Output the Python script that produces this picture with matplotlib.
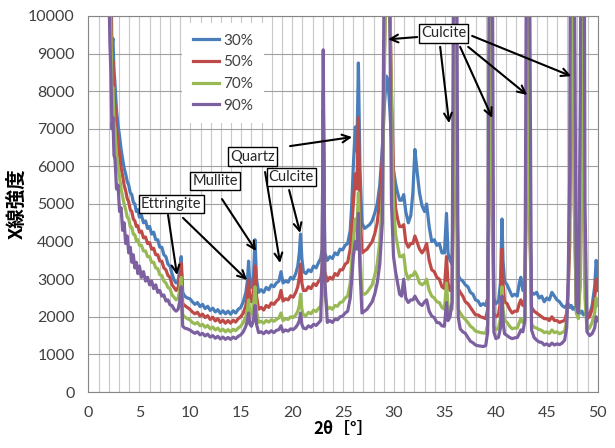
"""
XRD patterns (2theta vs intensity) for four mixes, with phase labels.
"""

import matplotlib.pyplot as plt
from matplotlib.ticker import MultipleLocator

# -----------------------------
# Data
# -----------------------------
two_theta = [
    2.0, 2.1, 2.2, 2.3, 2.4, 2.5, 2.6, 2.75, 2.9, 3.05,
    3.2, 3.35, 3.5, 3.65, 3.8, 3.95, 4.1, 4.25, 4.4, 4.55,
    4.7, 4.85, 5.0, 5.2, 5.4, 5.6, 5.8, 6.0, 6.2, 6.4,
    6.6, 6.8, 7.0, 7.2, 7.4, 7.6, 7.8, 8.0, 8.2, 8.4,
    8.6, 8.8, 8.95, 9.1, 9.25, 9.45, 9.7,
    9.95, 10.2, 10.45, 10.7, 10.95, 11.2, 11.45, 11.7, 11.95, 12.2,
    12.45, 12.7, 12.95, 13.2, 13.45, 13.7, 13.95, 14.2, 14.45, 14.7,
    14.95, 15.2, 15.45, 15.6, 15.72, 15.85, 16.0, 16.2, 16.35, 16.5,
    16.7, 16.95, 17.2, 17.45, 17.7, 17.95, 18.2, 18.45, 18.7, 18.9,
    19.1, 19.35, 19.6, 19.85, 20.1, 20.35, 20.55, 20.7, 20.82, 20.95,
    21.1,
    21.35, 21.6, 21.85, 22.1, 22.35, 22.6, 22.8, 22.95, 23.05, 23.2,
    23.45, 23.7, 23.95, 24.2, 24.45, 24.7, 24.95, 25.2, 25.45, 25.7,
    25.85, 26.0, 26.2, 26.35, 26.5, 26.65, 26.85, 27.1, 27.35, 27.6,
    27.85, 28.1, 28.35, 28.6, 28.85, 29.05, 29.25, 29.4, 29.55, 29.75,
    29.95, 30.15, 30.35, 30.55,
    30.75, 30.95, 31.15, 31.4, 31.65, 31.85, 32.05, 32.25, 32.5, 32.75,
    33.0, 33.2, 33.45, 33.7, 33.95, 34.2, 34.45, 34.7, 34.95, 35.15,
    35.3, 35.5, 35.7, 35.85, 36.0, 36.15, 36.3, 36.5, 36.75, 37.0,
    37.25, 37.5, 37.75, 38.0, 38.25, 38.5, 38.75, 39.0, 39.2, 39.35,
    39.5, 39.65, 39.8, 40.0,
    40.25, 40.45, 40.6, 40.7, 40.85, 41.1, 41.35, 41.6, 41.85, 42.1,
    42.3, 42.45, 42.65, 42.85, 43.0, 43.15, 43.3, 43.5, 43.75, 44.0,
    44.25, 44.5, 44.75, 45.0, 45.25, 45.5, 45.75, 46.0, 46.25, 46.5,
    46.75, 46.95, 47.1, 47.25, 47.4, 47.55, 47.7, 47.9, 48.1, 48.3,
    48.45, 48.6, 48.75, 48.95, 49.2, 49.45, 49.7, 49.85, 50.0,
]

int_30 = [
    14000, 12500, 11000, 9200, 9400, 8600, 8200, 7500, 7100, 6800,
    6450, 6200, 5950, 5800, 5600, 5500, 5300, 5250, 5050, 5000,
    4800, 4850, 4650, 4700, 4500, 4550, 4350, 4400, 4200, 4250,
    4050, 4050, 3850, 3850, 3650, 3600, 3400, 3350, 3150, 2980,
    2900, 2950, 3250, 3600, 2650, 2550, 2500,
    2480, 2400, 2330, 2380, 2270, 2330, 2220, 2280, 2170, 2230,
    2130, 2190, 2090, 2160, 2080, 2150, 2070, 2160, 2100, 2200,
    2250, 2400, 2650, 2950, 3480, 2850, 2780, 3100, 4050, 3000,
    2650, 2720, 2650, 2780, 2720, 2850, 2800, 2900, 2950, 3200,
    2900, 2950, 2920, 3050, 3000, 3150, 3350, 3700, 4200, 3550,
    3200,
    3150, 3250, 3200, 3350, 3300, 3450, 3550, 3800, 8000, 3700,
    3500, 3600, 3550, 3700, 3650, 3800, 3780, 3900, 3950, 4300,
    5000, 6000, 7050, 6400, 8750, 6000, 4500, 4350, 4400, 4450,
    4550, 4750, 5000, 5500, 6500, 7600, 8400, 8300, 7700, 6700,
    5900, 5550, 5300, 5100,
    5100, 5250, 4800, 4500, 4700, 5300, 6450, 5900, 5300, 4950,
    4800, 5000, 4400, 4000, 4050, 3900, 3950, 3700, 3700, 4750,
    3700, 3500, 3400, 6000, 11000, 6000, 3100, 3000, 2950, 2850,
    2800, 2650, 2600, 2450, 2420, 2300, 2350, 2300, 2500, 6000,
    11000, 6000, 2500, 2350,
    2400, 2900, 4600, 3500, 2950, 2850, 2700, 2550, 2600, 2550,
    2900, 3050, 2700, 2750, 6000, 11000, 5000, 2650, 2600, 2650,
    2500, 2550, 2400, 2500, 2450, 2650, 2550, 2450, 2400, 2300,
    2250, 2300, 2350, 2250, 2300, 2200, 2250, 2150, 2200, 2100,
    2150, 2050, 2100, 2100, 2050, 2300, 2800, 3500, 3000,
]

int_50 = [
    13000, 11500, 10200, 8600, 8800, 7900, 7600, 7000, 6600, 6300,
    5950, 5750, 5500, 5350, 5150, 5050, 4850, 4800, 4600, 4550,
    4400, 4420, 4250, 4280, 4100, 4120, 3950, 3970, 3800, 3820,
    3650, 3650, 3480, 3480, 3300, 3250, 3100, 3050, 2850, 2780,
    2700, 2780, 3000, 3420, 2350, 2300, 2250,
    2200, 2130, 2080, 2120, 2020, 2070, 1980, 2030, 1930, 1990,
    1890, 1950, 1850, 1910, 1830, 1900, 1830, 1910, 1860, 1950,
    2000, 2100, 2300, 2550, 2980, 2450, 2400, 2650, 3350, 2550,
    2200, 2250, 2180, 2300, 2250, 2370, 2330, 2420, 2480, 2700,
    2420, 2480, 2450, 2560, 2520, 2650, 2800, 3050, 3400, 2900,
    2700,
    2700, 2800, 2750, 2880, 2830, 2950, 3000, 3300, 7500, 3200,
    2950, 3050, 3000, 3150, 3100, 3250, 3250, 3400, 3450, 3800,
    4400, 5000, 5800, 5400, 7300, 5000, 3700, 3750, 3800, 3900,
    4000, 4200, 4500, 5100, 6200, 9000, 11500, 12500, 11000, 8000,
    5800, 4900, 4600, 4400,
    4400, 4450, 4000, 3850, 3950, 3950, 4150, 4000, 3800, 3700,
    3800, 3950, 3500, 3250, 3200, 3050, 3000, 2800, 2750, 3600,
    2900, 2700, 2700, 6000, 11000, 6000, 2750, 2650, 2550, 2400,
    2350, 2250, 2150, 2050, 2050, 2000, 1980, 1950, 2200, 6000,
    11000, 6000, 2100, 2000,
    2050, 2400, 3800, 2900, 2400, 2350, 2200, 2100, 2150, 2150,
    2350, 2450, 2300, 2450, 6000, 11000, 5000, 2250, 2150, 2100,
    2050, 2000, 1950, 1950, 1900, 2000, 1900, 1900, 1850, 1880,
    1900, 2100, 2700, 3900, 9000, 11000, 5000, 2300, 2200, 3000,
    7200, 7000, 3000, 1950, 2000, 2200, 2500, 3000, 2700,
]

int_70 = [
    12500, 10800, 9500, 8000, 8100, 7200, 7000, 6300, 6000, 5700,
    5400, 5200, 5000, 4850, 4650, 4600, 4400, 4380, 4200, 4180,
    4020, 4050, 3900, 3900, 3750, 3750, 3600, 3600, 3450, 3450,
    3300, 3280, 3120, 3100, 2950, 2900, 2780, 2750, 2580, 2520,
    2450, 2500, 2700, 3050, 2050, 2000, 1950,
    1920, 1850, 1810, 1850, 1760, 1800, 1720, 1770, 1680, 1730,
    1650, 1700, 1620, 1670, 1600, 1660, 1600, 1670, 1630, 1700,
    1750, 1850, 2000, 2200, 2450, 2100, 2050, 2250, 2800, 2150,
    1850, 1880, 1830, 1900, 1860, 1920, 1880, 1930, 1970, 2100,
    1900, 1950, 1930, 2000, 1980, 2050, 2150, 2300, 2600, 2200,
    2050,
    2030, 2120, 2080, 2180, 2140, 2230, 2280, 2700, 7000, 2600,
    2200, 2250, 2200, 2300, 2280, 2380, 2400, 2500, 2550, 2900,
    3500, 4000, 4600, 4300, 5300, 3800, 2600, 2600, 2650, 2750,
    2850, 3100, 3400, 4000, 5200, 8500, 11500, 12500, 11000, 7500,
    5000, 4200, 3900, 3600,
    3600, 3650, 3200, 3000, 3100, 3100, 3200, 3100, 2900, 2850,
    2900, 3000, 2700, 2550, 2500, 2400, 2380, 2250, 2200, 2900,
    2300, 2150, 2200, 6000, 11000, 6000, 2200, 2100, 2000, 1930,
    1850, 1750, 1700, 1620, 1600, 1580, 1570, 1560, 1800, 6000,
    11000, 6000, 1750, 1650,
    1700, 1950, 2800, 2200, 1900, 1850, 1750, 1680, 1700, 1700,
    1850, 1950, 1850, 1950, 6000, 11000, 5000, 1800, 1720, 1700,
    1660, 1640, 1580, 1600, 1560, 1650, 1580, 1600, 1550, 1580,
    1620, 1900, 2600, 5300, 11000, 11000, 5000, 2100, 1950, 3000,
    11000, 6000, 2500, 1650, 1700, 1850, 2100, 2500, 2300,
]

int_90 = [
    10800, 9300, 8500, 7000, 7300, 6300, 6200, 5400, 5500, 4800,
    4900, 4300, 4500, 3950, 4150, 3700, 3850, 3450, 3650, 3300,
    3450, 3150, 3350, 3050, 3200, 2950, 3050, 2850, 2950, 2750,
    2850, 2650, 2700, 2550, 2580, 2420, 2450, 2320, 2300, 2200,
    2150, 2200, 2400, 2800, 1750, 1700, 1680,
    1650, 1600, 1560, 1600, 1520, 1560, 1490, 1540, 1460, 1500,
    1430, 1480, 1410, 1460, 1400, 1450, 1400, 1460, 1420, 1480,
    1520, 1600, 1750, 1900, 2100, 1800, 1750, 1900, 2300, 1800,
    1580, 1600, 1550, 1620, 1570, 1630, 1580, 1640, 1660, 1760,
    1600, 1650, 1620, 1680, 1660, 1720, 1800, 1900, 2100, 1800,
    1700,
    1680, 1760, 1720, 1800, 1770, 1840, 1900, 3500, 9100, 3000,
    1850, 1900, 1850, 1940, 1920, 2000, 2020, 2100, 2150, 2500,
    3000, 3600, 4000, 3800, 4750, 3300, 2100, 2150, 2200, 2300,
    2400, 2600, 2900, 3400, 4500, 12000, 16000, 17000, 11000, 5000,
    3600, 3200, 2900, 2600,
    2550, 3000, 2500, 2380, 2450, 2450, 2550, 2450, 2350, 2300,
    2400, 2450, 2150, 2020, 1980, 1850, 1840, 1760, 1750, 2380,
    1900, 2000, 2400, 12000, 20000, 12000, 2000, 1680, 1600, 1560,
    1450, 1350, 1310, 1250, 1230, 1220, 1210, 1230, 1600, 12000,
    20000, 12000, 1600, 1420,
    1450, 1700, 2550, 1900, 1550, 1500, 1450, 1420, 1440, 1450,
    1550, 1650, 1600, 1900, 12000, 20000, 12000, 1650, 1450, 1380,
    1330, 1320, 1250, 1280, 1230, 1300, 1250, 1280, 1260, 1300,
    1380, 1700, 3000, 5800, 20000, 20000, 12000, 2300, 2100, 8000,
    20000, 20000, 5000, 1600, 1500, 1550, 1700, 2000, 1900,
]

series = [int_30, int_50, int_70, int_90]
labels = ["30%", "50%", "70%", "90%"]
colors = ["#4a7ebb", "#be4b48", "#98b954", "#7d60a0"]

# phase labels: (text, box centre), arrows: (tail, head) in data coords
boxes = [
    ("Ettringite", (8.12, 4995)),
    ("Mullite", (12.46, 5610)),
    ("Quartz", (16.11, 6260)),
    ("Culcite", (19.92, 5720)),
    ("Culcite", (34.85, 9535)),
]
arrows = [
    ((7.81, 4710), (8.69, 3110)),
    ((9.28, 4630), (15.57, 2980)),
    ((13.11, 5130), (16.45, 3750)),
    ((19.79, 6540), (25.88, 6780)),
    ((17.34, 5850), (18.81, 3430)),
    ((19.70, 5370), (20.78, 4230)),
    ((32.27, 9440), (29.42, 9380)),
    ((34.53, 9180), (35.41, 7150)),
    ((36.49, 9180), (39.64, 7290)),
    ((37.28, 9180), (43.07, 7900)),
    ((37.67, 9470), (47.40, 8400)),
]

plt.rcParams['font.family'] = ['Lato', 'Noto Sans CJK JP', 'DejaVu Sans']

# -----------------------------
# Plot
# -----------------------------
fig = plt.figure(figsize=(6.15, 4.48), dpi=100)
ax = fig.add_axes([0.1439, 0.125, 0.828, 0.8393])

for y, lab, c in zip(series, labels, colors):
    ax.plot(two_theta, y, color=c, lw=2.3, label=lab)

ax.set_xlim(0, 50)
ax.set_ylim(0, 10000)
ax.xaxis.set_major_locator(MultipleLocator(5))
ax.xaxis.set_minor_locator(MultipleLocator(1))
ax.yaxis.set_major_locator(MultipleLocator(1000))
ax.grid(which='major', axis='y', color='#a0a0a0', lw=0.8)
ax.grid(which='both', axis='x', color='#c8c8c8', lw=0.8)
ax.set_axisbelow(True)
ax.tick_params(which='both', length=0, labelsize=11.5, labelcolor='#404040')
ax.tick_params(axis='y', pad=10)
ax.tick_params(axis='x', pad=10)
for s in ax.spines.values():
    s.set_color('#868686')
    s.set_linewidth(0.8)

ax.set_ylabel("X線強度", family=['Noto Sans CJK JP'], fontweight='bold',
              fontsize=14, labelpad=1)
ax.set_xlabel("2θ［°］", family=['Noto Sans CJK JP'], fontweight='bold',
              fontsize=12, labelpad=0)

leg = ax.legend(loc='upper left', bbox_to_anchor=(0.1836, 0.981),
                frameon=True, fancybox=False, framealpha=1, edgecolor='none',
                fontsize=11, handlelength=1.75, handletextpad=0.25,
                labelspacing=0.5, borderpad=0.7, borderaxespad=0)
for t in leg.get_texts():
    t.set_color('#404040')

for (tail, head) in arrows:
    ax.annotate("", xy=head, xytext=tail,
                arrowprops=dict(arrowstyle='->', color='black', lw=1.5,
                                mutation_scale=14, shrinkA=0, shrinkB=0),
                zorder=6)

for text, (bx, by) in boxes:
    ax.text(bx, by, text, ha='center', va='center', fontsize=10.5,
            color='#262626', zorder=7,
            bbox=dict(boxstyle='square,pad=0.15', fc='white', ec='black',
                      lw=1))

fig.savefig("out.png", dpi=100)
